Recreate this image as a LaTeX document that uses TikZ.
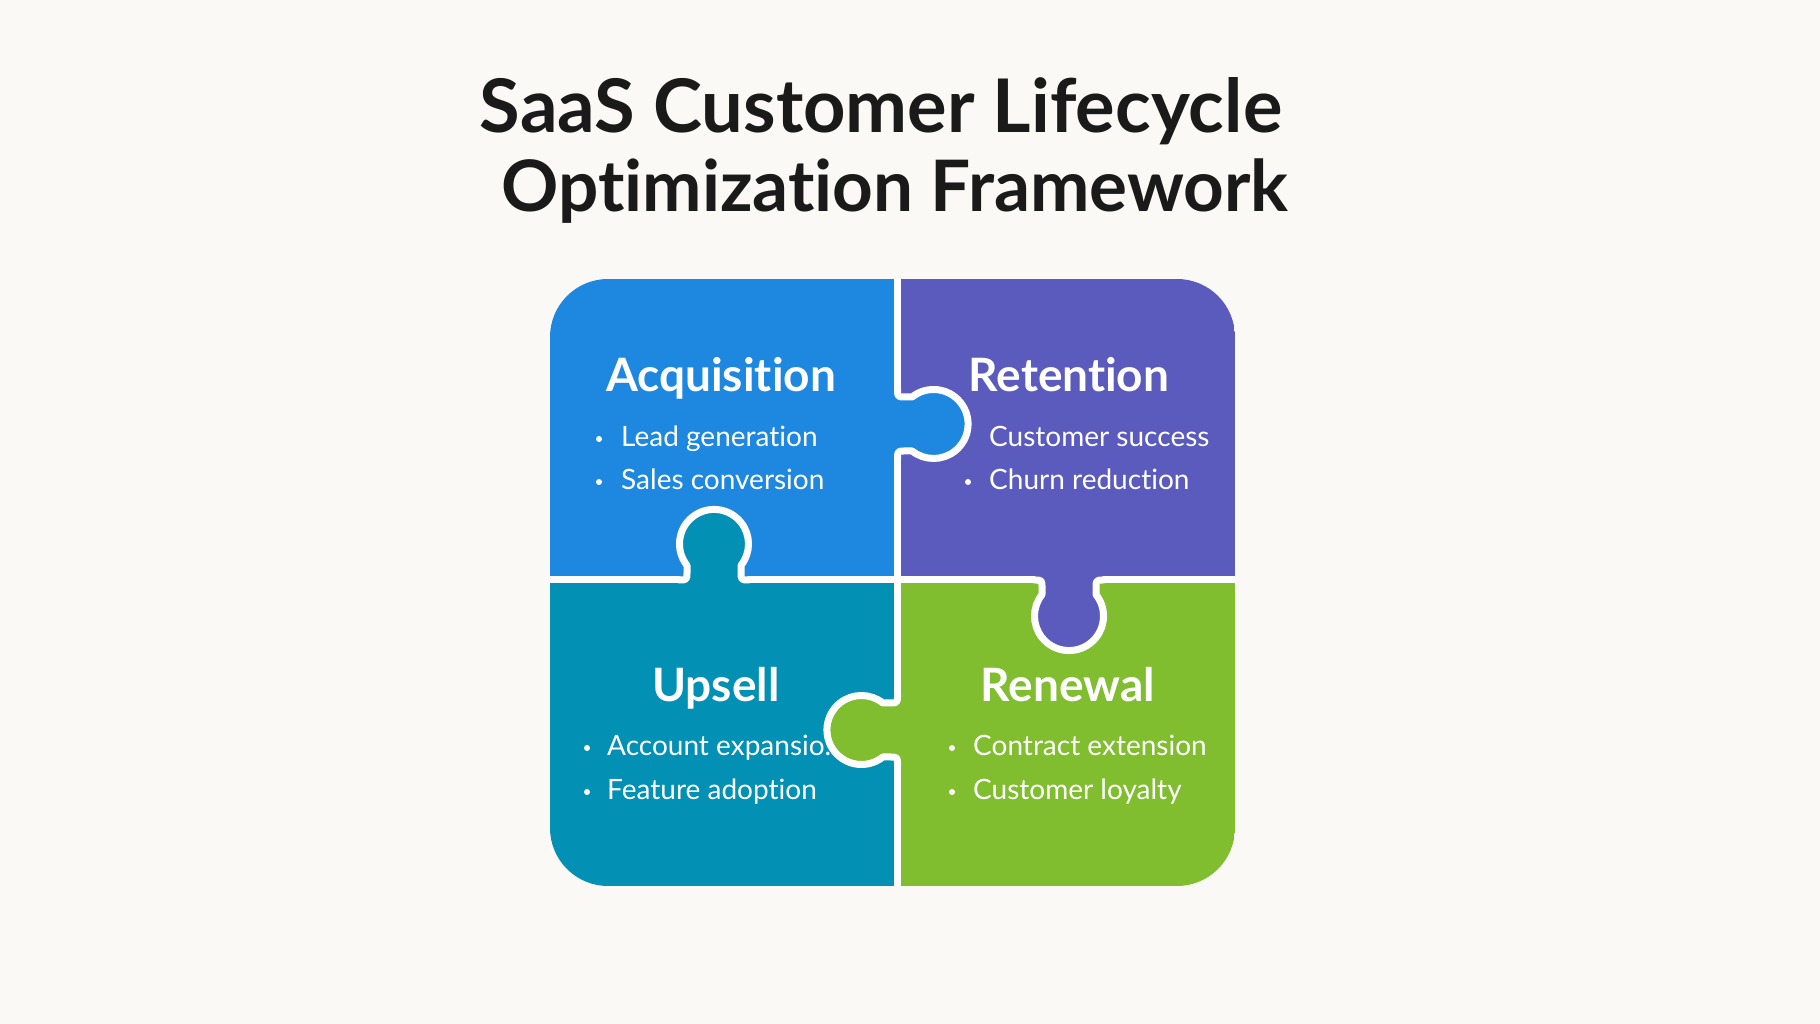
\documentclass[tikz,border=0pt]{standalone}
\usepackage{fontspec}
\setmainfont{Lato}[Ligatures={NoCommon}]
\definecolor{bgc}{HTML}{FAF9F6}
\definecolor{acq}{HTML}{1E88E0}
\definecolor{ret}{HTML}{5B5BBE}
\definecolor{ups}{HTML}{0290B4}
\definecolor{ren}{HTML}{80BE30}
\definecolor{ttl}{HTML}{1A1A1A}
\tikzset{
  divline/.style={draw=white, line width=7pt, line cap=round, line join=round},
  knobfill/.pic={
    \fill[#1] (-35,-8) -- (-35,0) .. controls (-27,0) .. (-27,8) -- (-27,14.6)
      arc[start angle=218.5, end angle=-38.5, radius=34.5] -- (27,8)
      .. controls (27,0) .. (35,0) -- (35,-8) -- cycle;
  },
  knobline/.pic={
    \draw[divline] (-35,0) .. controls (-27,0) .. (-27,8) -- (-27,14.6)
      arc[start angle=218.5, end angle=-38.5, radius=34.5] -- (27,8)
      .. controls (27,0) .. (35,0);
  },
  titletext/.style={text=ttl, anchor=base, font=\fontsize{72}{80}\selectfont\bfseries},
  headtext/.style={text=white, anchor=base, font=\fontsize{46}{52}\selectfont\bfseries},
  bodytext/.style={text=white, anchor=base west, inner sep=0pt, font=\fontsize{28}{34}\selectfont},
  dot/.style={circle, fill=white, inner sep=0pt, minimum size=6pt},
}
\begin{document}
\begin{tikzpicture}[x=1pt,y=1pt]
\useasboundingbox (0,0) rectangle (1820,1024);
\fill[bgc] (0,0) rectangle (1820,1024);

% title
\node[titletext, font=\fontsize{74}{80}\selectfont\bfseries] (t1) at (881,891) {SaaS Customer Lifecycle};
\node[titletext, font=\fontsize{71}{80}\selectfont\bfseries] (t2) at (895,812) {Optimization Framework};

% puzzle
\begin{scope}
\clip[rounded corners=58pt] (550,138) rectangle (1235,745);
\fill[acq] (550,444) rectangle (897.5,745);
\fill[ret] (897.5,444) rectangle (1235,745);
\fill[ups] (550,138) rectangle (897.5,444);
\fill[ren] (897.5,138) rectangle (1235,444);
% knob fills
\pic[rotate=-90] at (897.5,600) {knobfill=acq};
\pic at (714,444) {knobfill=ups};
\pic[rotate=180] at (1069,444) {knobfill=ret};
\pic[rotate=90] at (897.5,294) {knobfill=ren};
% dividers
\coordinate (vtop) at (897.5,750);
\coordinate (vbot) at (897.5,130);
\coordinate (hl) at (545,444);
\coordinate (hr) at (1240,444);
\draw[divline] (vtop) -- (897.5,635);
\draw[divline] (897.5,565) -- (897.5,329);
\draw[divline] (897.5,259) -- (vbot);
\draw[divline] (hl) -- (679,444);
\draw[divline] (749,444) -- (1034,444);
\draw[divline] (1104,444) -- (hr);
\pic[rotate=-90] at (897.5,600) {knobline};
\pic at (714,444) {knobline};
\pic[rotate=180] at (1069,444) {knobline};
\pic[rotate=90] at (897.5,294) {knobline};
\end{scope}

% headings
\node[headtext] (hacq) at (721,632) {Acquisition};
\node[headtext] (hret) at (1069,632) {Retention};
\node[headtext] (hups) at (716,322) {Upsell};
\node[headtext] (hren) at (1068,322) {Renewal};

% bullets and items
\node[dot] (d1) at (599,585) {};
\node[bodytext] (a1) at (621,577) {Lead generation};
\node[dot] (d2) at (599,542) {};
\node[bodytext] (a2) at (621,534) {Sales conversion};

\node[bodytext] (r1) at (989,577) {Customer success};
\node[dot] (d4) at (968,542) {};
\node[bodytext] (r2) at (989,534) {Churn reduction};

\node[dot] (d5) at (587,276) {};
\node[bodytext] (u1) at (607,268) {Account expansio.};
\node[dot] (d6) at (587,232) {};
\node[bodytext] (u2) at (607,224) {Feature adoption};

\node[dot] (d7) at (952,276) {};
\node[bodytext] (n1) at (973,268) {Contract extension};
\node[dot] (d8) at (952,232) {};
\node[bodytext] (n2) at (973,224) {Customer loyalty};
\end{tikzpicture}
\end{document}
